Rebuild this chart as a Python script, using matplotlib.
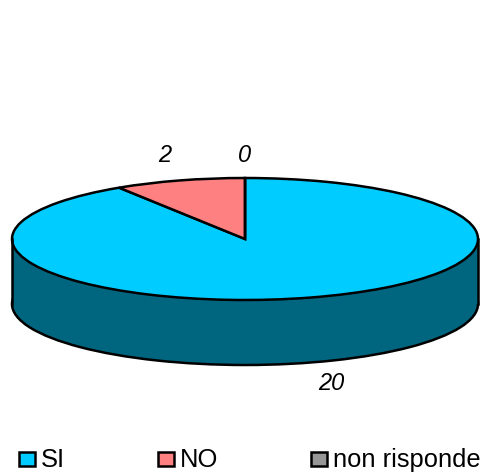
import matplotlib
matplotlib.use('Agg')
import matplotlib.pyplot as plt
from matplotlib.patches import Rectangle

categories = ['SI', 'NO', 'non risponde']
values = [20, 2, 0]
colors = ['#00CCFF', '#FF8080', '#969696']
side_color = '#006680'

W, H = 482, 472
cx, cy = 245, 239   # pie centre in pixels
rx, ry = 233, 61    # ellipse radii in pixels
depth = 65 / ry     # height of the side wall, in pie units
lw = 1.8

plt.rcParams['font.family'] = ['Liberation Sans', 'DejaVu Sans']

fig = plt.figure(figsize=(W / 100, H / 100), dpi=100)
ax = fig.add_axes([0, 0, 1, 1])
edge = {'edgecolor': 'black', 'linewidth': lw}

# side wall first, then the top of the pie over it
ax.pie([1], colors=[side_color], center=(0, -depth), startangle=90, wedgeprops=edge)
ax.add_patch(Rectangle((-1, -depth), 2, depth, facecolor=side_color, edgecolor='none'))
ax.plot([-1, -1], [0, -depth], color='black', lw=lw)
ax.plot([1, 1], [0, -depth], color='black', lw=lw)
ax.pie(values, colors=colors, startangle=90, counterclock=False, wedgeprops=edge)

ax.set_aspect('auto')
ax.set_xlim(-cx / rx, (W - cx) / rx)
ax.set_ylim((cy - H) / ry, cy / ry)
ax.axis('off')

# value labels
label_pos = [(331, 384), (165, 156), (245, 156)]
for v, (x, y) in zip(values, label_pos):
    fig.text(x / W, 1 - y / H, str(v), style='italic', fontsize=17,
             ha='center', va='center', color='black')

# legend
legend_x = [19, 158, 311]
for name, col, x in zip(categories, colors, legend_x):
    fig.add_artist(Rectangle((x / W, 1 - 466 / H), 16 / W, 14 / H, facecolor=col,
                             edgecolor='black', linewidth=lw, transform=fig.transFigure))
    fig.text((x + 22) / W, 1 - 460 / H, name, fontsize=18.4, ha='left', va='center', color='black')

fig.savefig('out.png', dpi=100)
